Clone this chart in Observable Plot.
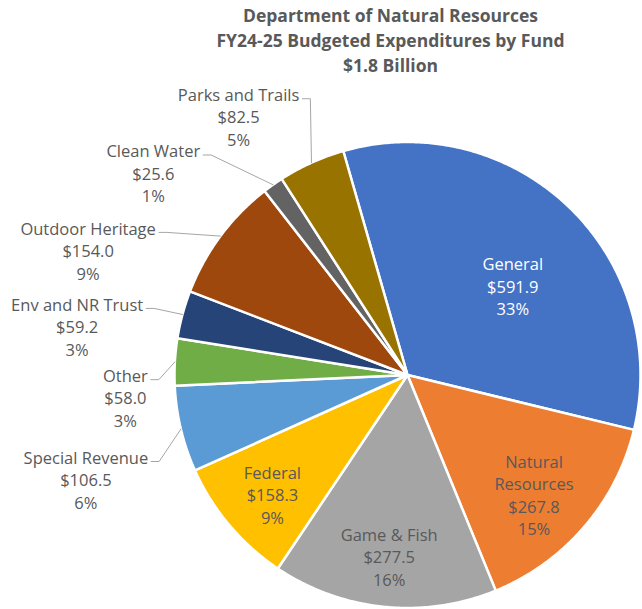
<!DOCTYPE html>
<html><head><meta charset="utf-8">
<script src="https://cdn.jsdelivr.net/npm/d3@7"></script>
<script src="https://cdn.jsdelivr.net/npm/@observablehq/plot@0.6"></script>
<style>
body{margin:0;background:#fff;}
#wrap{position:relative;width:642px;height:609px;overflow:hidden;}
#title{position:absolute;left:0;top:3px;width:781px;text-align:center;font-family:'Open Sans',sans-serif;font-weight:bold;font-size:17.5px;color:#595959;line-height:25px;}
#wrap svg{position:absolute;left:0;top:0;}
</style></head><body>
<div id="wrap"><div id="title">Department of Natural Resources<br>FY24-25 Budgeted Expenditures by Fund<br>$1.8 Billion</div></div>
<script>
const funds = ["General","Natural Resources","Game & Fish","Federal","Special Revenue","Other","Env and NR Trust","Outdoor Heritage","Clean Water","Parks and Trails"];
const amounts = [591.9, 267.8, 277.5, 158.3, 106.5, 58.0, 59.2, 154.0, 25.6, 82.5];
const colors = ["#4472C4","#ED7D31","#A5A5A5","#FFC000","#5B9BD5","#70AD47","#264478","#9E480E","#636363","#997300"];
const displayNames = {"Natural Resources": "Natural\nResources"};

// layout (label placement, polar offsets from slice mid-angle)
const R = 233, startDeg = -16, LH = 22.5, FS = 16.5;
const insideLayout = {"General":{da:5.9,r:138,white:true},"Natural Resources":{da:2.7,r:174},"Game & Fish":{da:0,r:182},"Federal":{da:-1.2,r:180}};
const outsideLayout = {"Special Revenue":{da:-4.5,r:338},"Other":{da:-7.7,r:283},"Env and NR Trust":{da:-6.6,r:334},"Outdoor Heritage":{da:-15.2,r:343},"Clean Water":{da:-16.2,r:325},"Parks and Trails":{da:-8.8,r:309}};

const total = d3.sum(amounts);
let cum = 0;
const slices = funds.map((f,i)=>{
  const a0 = startDeg + cum/total*360; cum += amounts[i];
  const a1 = startDeg + cum/total*360;
  return {fund:f, a0, a1, mid:(a0+a1)/2, value:amounts[i], pct:Math.round(amounts[i]/total*100)};
});
const pt = (deg, r) => { const t = deg*Math.PI/180; return [r*Math.sin(t), -r*Math.cos(t)]; };

const polyRows = [];
slices.forEach(s=>{
  polyRows.push({fund:s.fund,x:0,y:0});
  const n = Math.max(2, Math.ceil((s.a1-s.a0)/0.5));
  for(let k=0;k<=n;k++){ const [x,y]=pt(s.a0+(s.a1-s.a0)*k/n, R); polyRows.push({fund:s.fund,x,y}); }
  polyRows.push({fund:s.fund,x:0,y:0});
});

const ctx = document.createElement("canvas").getContext("2d");
ctx.font = FS + "px 'Open Sans'";

const labelRows = [], leaderRows = [];
slices.forEach(s=>{
  const text = (displayNames[s.fund]||s.fund) + "\n$" + s.value.toFixed(1) + "\n" + s.pct + "%";
  const L = insideLayout[s.fund] || outsideLayout[s.fund];
  const [bx, by] = pt(s.mid + L.da, L.r);
  labelRows.push({fund:s.fund, x:bx, y:by, text, white:!!L.white});
  if (outsideLayout[s.fund]) {
    const w = ctx.measureText(s.fund).width;
    const ex = bx + w/2 + 3, ey = by - LH + 5;
    const [px, py] = pt(s.mid, R);
    leaderRows.push({fund:s.fund,x:ex,y:ey},{fund:s.fund,x:ex+8,y:ey},{fund:s.fund,x:px,y:py});
  }
});

const chart = Plot.plot({
  width: 642, height: 609, margin: 0,
  x: {type:"linear", domain:[-407, 235], range:[0,642], axis:null},
  y: {type:"linear", domain:[-374.5, 234.5], range:[0,609], axis:null},
  color: {domain: funds, range: colors},
  style: {fontFamily: "'Open Sans', sans-serif", background: "transparent"},
  marks: [
    Plot.line(polyRows, {x:"x", y:"y", z:"fund", fill:"fund", stroke:"white", strokeWidth:2.5, strokeLinejoin:"round", curve:"linear"}),
    Plot.line(leaderRows, {x:"x", y:"y", z:"fund", stroke:"#A6A6A6", strokeWidth:1}),
    Plot.text(labelRows.filter(d=>!d.white), {x:"x", y:"y", text:"text", fill:"#595959", fontSize:FS, lineHeight:LH/FS, textAnchor:"middle"}),
    Plot.text(labelRows.filter(d=>d.white), {x:"x", y:"y", text:"text", fill:"white", fontSize:FS, lineHeight:LH/FS, textAnchor:"middle"})
  ]
});
document.getElementById("wrap").appendChild(chart);
</script>
</body></html>
